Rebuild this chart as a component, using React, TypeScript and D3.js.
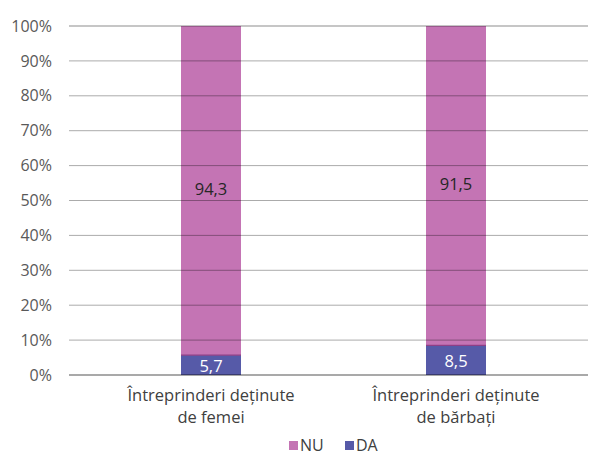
import React from "react";
import * as d3 from "d3";

const categories = [["Întreprinderi deținute", "de femei"], ["Întreprinderi deținute", "de bărbați"]];
const daValues = [5.7, 8.5];
const nuValues = [94.3, 91.5];
const yTicks = [0, 10, 20, 30, 40, 50, 60, 70, 80, 90, 100];
const seriesNames = ["NU", "DA"];
const colors = { NU: "#C474B4", DA: "#565AA8" };

export default function App() {
  const W = 590, H = 455;
  const gridLeft = 69, gridRight = 588;
  const y = d3.scaleLinear().domain([0, 100]).range([375, 26]);
  const x = d3.scalePoint<number>().domain([0, 1]).range([88.5, 578.5]).padding(0.5);
  const barW = 60;
  const font = "'Open Sans', 'Noto Sans', sans-serif";
  return (
    <svg width={W} height={H} style={{ position: "absolute", left: 0, top: 0 }} fontFamily={font}>
      <rect width={W} height={H} fill="#fff" />
      {categories.map((c, i) => {
        const cx = x(i)!;
        const yDa = y(daValues[i]);
        const yTop = y(daValues[i] + nuValues[i]);
        return (
          <g key={i}>
            <rect x={cx - barW / 2} y={yTop} width={barW} height={yDa - yTop} fill={colors.NU} />
            <rect x={cx - barW / 2} y={yDa} width={barW} height={y(0) - yDa} fill={colors.DA} />
            <line x1={cx - barW / 2} x2={cx + barW / 2} y1={yDa} y2={yDa} stroke="#8E3F86" strokeWidth={1.2} />
          </g>
        );
      })}
      {yTicks.map((t) => (
        <g key={t}>
          <line x1={gridLeft} x2={gridRight} y1={y(t)} y2={y(t)} stroke="#000" strokeOpacity={t === 0 || t === 100 ? 0.45 : 0.33} strokeWidth={t === 0 ? 1.6 : 1} />
          <text x={52} y={y(t)} dy="0.35em" textAnchor="end" fontSize={16} fill="#595959">{t}%</text>
        </g>
      ))}
      {categories.map((c, i) => {
        const cx = x(i)!;
        const yDa = y(daValues[i]);
        const yTop = y(daValues[i] + nuValues[i]);
        return (
          <g key={"l" + i}>
            <text x={cx} y={(yTop + yDa) / 2 - 1} dy="0.35em" textAnchor="middle" fontSize={16.5} fill="#262626">{nuValues[i].toFixed(1).replace(".", ",")}</text>
            <text x={cx} y={(yDa + y(0)) / 2 + 1} dy="0.35em" textAnchor="middle" fontSize={16.5} fill="#fff">{daValues[i].toFixed(1).replace(".", ",")}</text>
            {c.map((line, j) => (
              <text key={j} x={cx} y={395 + j * 22} dy="0.35em" textAnchor="middle" fontSize={16.5} fill="#404040">{line}</text>
            ))}
          </g>
        );
      })}
      {seriesNames.map((s, i) => {
        const lx = 289 + i * 56;
        return (
          <g key={s}>
            <rect x={lx} y={441} width={9} height={9} fill={colors[s as "NU" | "DA"]} />
            <text x={lx + 11} y={445.5} dy="0.35em" fontSize={16} fill="#404040">{s}</text>
          </g>
        );
      })}
    </svg>
  );
}
